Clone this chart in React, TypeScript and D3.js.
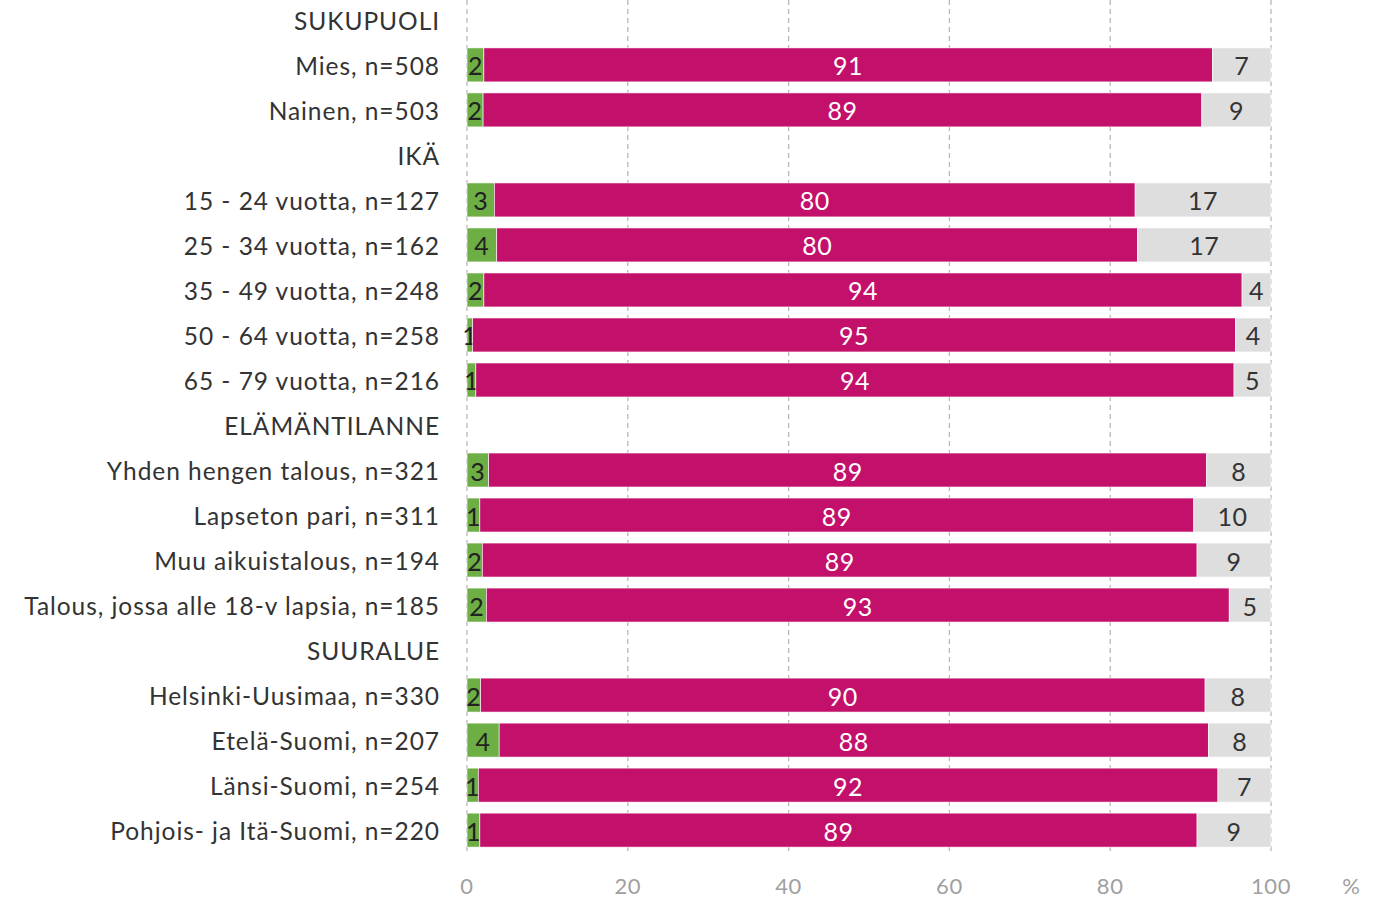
import React, { useEffect, useRef } from 'react';
import * as d3 from 'd3';

// rows top to bottom; header rows have null values
const categories = [
  'SUKUPUOLI', 'Mies, n=508', 'Nainen, n=503',
  'IKÄ', '15 - 24 vuotta, n=127', '25 - 34 vuotta, n=162', '35 - 49 vuotta, n=248',
  '50 - 64 vuotta, n=258', '65 - 79 vuotta, n=216',
  'ELÄMÄNTILANNE', 'Yhden hengen talous, n=321', 'Lapseton pari, n=311',
  'Muu aikuistalous, n=194', 'Talous, jossa alle 18-v lapsia, n=185',
  'SUURALUE', 'Helsinki-Uusimaa, n=330', 'Etelä-Suomi, n=207', 'Länsi-Suomi, n=254',
  'Pohjois- ja Itä-Suomi, n=220',
];
const greenVals = [null, 2.1, 2.0, null, 3.4, 3.7, 2.1, 0.7, 1.1, null, 2.7, 1.6, 1.9, 2.4, null, 1.7, 4.0, 1.4, 1.6];
const magentaVals = [null, 90.6, 89.4, null, 79.7, 79.7, 94.3, 94.9, 94.3, null, 89.3, 88.8, 88.9, 92.4, null, 90.1, 88.2, 92.0, 89.2];
const greyVals = [null, 7.3, 8.6, null, 16.9, 16.6, 3.6, 4.4, 4.6, null, 8.0, 9.6, 9.2, 5.2, null, 8.2, 7.8, 6.6, 9.2];
const greenLabels = ['', '2', '2', '', '3', '4', '2', '1', '1', '', '3', '1', '2', '2', '', '2', '4', '1', '1'];
const magentaLabels = ['', '91', '89', '', '80', '80', '94', '95', '94', '', '89', '89', '89', '93', '', '90', '88', '92', '89'];
const greyLabels = ['', '7', '9', '', '17', '17', '4', '4', '5', '', '8', '10', '9', '5', '', '8', '8', '7', '9'];
const xTicks = [0, 20, 40, 60, 80, 100];

const colors = ['#6DAE45', '#C2106B', '#DEDEDE'];
const textColors = ['#222222', '#ffffff', '#333333'];

export default function App() {
  const ref = useRef<SVGSVGElement>(null);

  useEffect(() => {
    const width = 1391, height = 899;
    const svg = d3.select(ref.current);
    svg.selectAll('*').remove();
    const font = 'Lato, "Open Sans", sans-serif';

    const x = d3.scaleLinear().domain([0, 100]).range([467, 1271]);
    const y = d3.scaleBand<number>()
      .domain(d3.range(categories.length))
      .range([-2.5, 852.5])
      .paddingInner(0.245)
      .paddingOuter(0.12);

    // gridlines
    svg.append('g')
      .selectAll('line')
      .data(xTicks)
      .join('line')
      .attr('x1', d => x(d)).attr('x2', d => x(d))
      .attr('y1', 0).attr('y2', 852)
      .attr('stroke', '#b8b8b8')
      .attr('stroke-width', 1.3)
      .attr('stroke-dasharray', '5,4');

    // stacked segments
    const series = [greenVals, magentaVals, greyVals];
    const labels = [greenLabels, magentaLabels, greyLabels];
    categories.forEach((c, i) => {
      if (greenVals[i] == null) return;
      let start = 0;
      series.forEach((s, k) => {
        const v = s[i] as number;
        const x0 = x(start), x1 = x(Math.min(start + v, 100));
        svg.append('rect')
          .attr('x', x0).attr('y', y(i)!)
          .attr('width', x1 - x0).attr('height', y.bandwidth())
          .attr('fill', colors[k])
          .attr('stroke', '#ffffff').attr('stroke-width', 0.6);
        svg.append('text')
          .attr('x', (x0 + x1) / 2)
          .attr('y', y(i)! + y.bandwidth() / 2)
          .attr('dy', '0.42em')
          .attr('text-anchor', 'middle')
          .attr('font-family', font)
          .attr('font-size', 25)
          .attr('letter-spacing', 0.5)
          .attr('fill', textColors[k])
          .text(labels[k][i]);
        start += v;
      });
    });

    // category labels
    svg.append('g')
      .selectAll('text')
      .data(categories)
      .join('text')
      .attr('x', 440)
      .attr('y', (d, i) => y(i)! + y.bandwidth() / 2)
      .attr('dy', '0.4em')
      .attr('text-anchor', 'end')
      .attr('font-family', font)
      .attr('font-size', 24.5)
      .attr('letter-spacing', 0.95)
      .attr('fill', '#333333')
      .text(d => d);

    // x tick labels
    svg.append('g')
      .selectAll('text')
      .data(xTicks)
      .join('text')
      .attr('x', d => x(d))
      .attr('y', 886)
      .attr('dy', '0.36em')
      .attr('text-anchor', 'middle')
      .attr('font-family', font)
      .attr('font-size', 22)
      .attr('letter-spacing', 0.6)
      .attr('fill', '#a0a0a0')
      .text(d => d);

    svg.append('text')
      .attr('x', 1351).attr('y', 886).attr('dy', '0.36em')
      .attr('text-anchor', 'middle')
      .attr('font-family', font)
      .attr('font-size', 22)
      .attr('fill', '#a0a0a0')
      .text('%');

    svg.attr('width', width).attr('height', height);
  }, []);

  return (
    <svg ref={ref} width={1391} height={899}
      style={{ position: 'absolute', left: 0, top: 0, background: '#fff' }} />
  );
}
